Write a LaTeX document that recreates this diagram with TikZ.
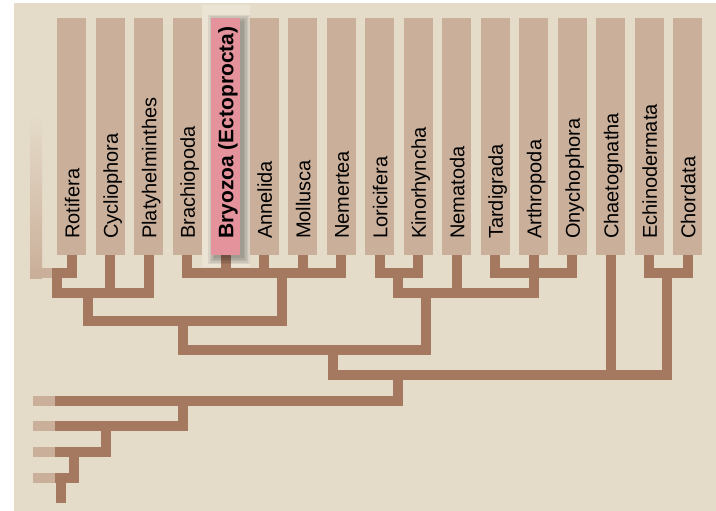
\documentclass[tikz,border=0pt]{standalone}
\usepackage{fontspec}
\setmainfont{Liberation Sans}
\usetikzlibrary{backgrounds}

\definecolor{paper}{HTML}{E5DBC9}
\definecolor{tan}{HTML}{CAAF9A}
\definecolor{brn}{HTML}{A57860}
\definecolor{rosy}{HTML}{E4929C}
\definecolor{halo}{HTML}{EBE3D4}

\begin{document}
\begin{tikzpicture}[x=1pt,y=-1pt,
    taxon/.style={rectangle,fill=tan,anchor=south,minimum width=29pt,minimum height=237pt,inner sep=0pt},
    taxonhl/.style={taxon,fill=rosy},
    taxname/.style={rotate=90,anchor=base west,inner sep=0pt,font=\fontsize{20}{24}\selectfont},
    branch/.style={draw=brn,line width=10pt,line join=miter},
    ghost/.style={draw=tan,line width=10pt}]

\useasboundingbox (0,0) rectangle (716,511);

% phyla, one bar each
\foreach \nm/\txt/\sty [count=\i from 0] in {
    rot/Rotifera/taxon, cyc/Cycliophora/taxon, pla/Platyhelminthes/taxon,
    bra/Brachiopoda/taxon, bry/{\fontsize{21}{24}\selectfont\bfseries Bryozoa (Ectoprocta)}/taxonhl,
    ann/Annelida/taxon, mol/Mollusca/taxon, nem/Nemertea/taxon,
    lor/Loricifera/taxon, kin/Kinorhyncha/taxon, nma/Nematoda/taxon,
    tar/Tardigrada/taxon, art/Arthropoda/taxon, ony/Onychophora/taxon,
    cha/Chaetognatha/taxon, ech/Echinodermata/taxon, cho/Chordata/taxon}
{
    \node[\sty] (\nm) at (71.8+38.5*\i,255) {};
    \node[taxname] (\nm-t) at ([xshift=7.5pt,yshift=16pt]\nm.south) {\txt};
}

\begin{scope}[on background layer]
    \fill[white] (0,0) rectangle (716,511);
    \fill[paper] (14,3) rectangle (716,511);
    \fill[halo] (202,5) rectangle (250,267);

    % faded lineage next to Rotifera
    \shade[top color=paper,bottom color=tan] (30,115) rectangle (42,278);
    \fill[tan] (30,268) rectangle (52,278);

    % junctions
    \coordinate (n1) at (57,273);
    \coordinate (n2) at (87.5,293);
    \coordinate (n3) at (282,273);
    \coordinate (n4) at (183,321);
    \coordinate (n5) at (398,273);
    \coordinate (n6) at (533.8,273);
    \coordinate (n7) at (426,293);
    \coordinate (n8) at (333,350);
    \coordinate (n9) at (667,273);
    \coordinate (n10) at (398,375);
    \coordinate (n11) at (183,401);
    \coordinate (n12) at (106,426);
    \coordinate (n13) at (73.5,452);
    \coordinate (n14) at (60.5,478);
    \coordinate (root) at (60.5,503);

    % lophotrochozoa side
    \draw[branch] (rot.south) |- (n1) -- (n1 |- n2) -| (pla.south);
    \draw[branch] (cyc.south) -- (cyc.south |- n2);
    \draw[branch] (n2) |- (n4) -| (n3);
    \draw[branch] (bra.south) |- (n3) -| (nem.south);
    \foreach \t in {bry,ann,mol}
        \draw[branch] (\t.south) -- (\t.south |- n3);

    % ecdysozoa side
    \draw[branch] (lor.south) |- (n5) -| (kin.south);
    \draw[branch] (tar.south) |- (n6) -| (ony.south);
    \draw[branch] (art.south) -- (n6);
    \draw[branch] (n5) |- (n7) -| (n6);
    \draw[branch] (nma.south) -- (nma.south |- n7);
    \draw[branch] (n4) |- (n8) -| (n7);

    % deuterostomes
    \draw[branch] (ech.south) |- (n9) -| (cho.south);
    \draw[branch] (n8) |- (n10) -| (n9);
    \draw[branch] (cha.south) -- (cha.south |- n10);

    % outgroups down the left
    \foreach \y [count=\j] in {401,426,452,478} {
        \coordinate (o\j) at (33,\y);
        \coordinate (d\j) at (55,\y);
        \draw[ghost] (o\j) -- (d\j);
    }
    \draw[branch] (d1) -| (n10);
    \draw[branch] (d2) -| (n11);
    \draw[branch] (d3) -| (n12);
    \draw[branch] (d4) -| (n13);
    \draw[branch] (n14) -- (root);

    % soft shadow under the highlighted bar
    \foreach \k in {0,...,4} {
        \pgfmathsetmacro\lo{3-1.5*\k}
        \pgfmathsetmacro\hi{3+1.5*\k}
        \pgfmathsetmacro\dn{-3-1.5*\k}
        \pgfmathsetmacro\up{-3+1.5*\k}
        \fill[black,opacity=0.07]
            ([xshift=\lo pt,yshift=\dn pt]bry.south west)
            rectangle ([xshift=\hi pt,yshift=\up pt]bry.north east);
    }
\end{scope}
\end{tikzpicture}
\end{document}
